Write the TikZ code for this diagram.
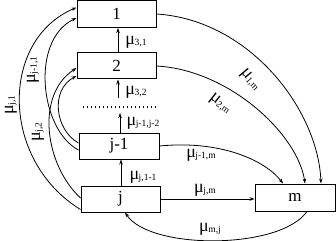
\documentclass[tikz,border=0pt]{standalone}
\usepackage{fontspec}
\setmainfont{Liberation Serif}
\usetikzlibrary{arrows.meta}
\newcommand\rt[1]{{\fontsize{18}{18}\selectfont μ}\kern-0.5pt{\fontsize{9.5}{10}\selectfont\raisebox{-0.35ex}{#1}}}
\begin{document}
\begin{tikzpicture}[x=1pt,y=-1pt,
 box/.style={draw,line width=1pt,inner sep=0pt,font=\fontsize{17}{17}\selectfont},
 conn/.style={line width=0.8pt,-{Stealth[length=5pt,width=3.5pt]}},
 lab/.style={inner sep=0pt}]
\useasboundingbox (0,0) rectangle (336,240);
\node[box,minimum width=79pt,minimum height=27pt] (n1) at (116.5,14) {1};
\node[box,minimum width=79pt,minimum height=26pt] (n2) at (116.5,66) {2};
\node[box,minimum width=80pt,minimum height=26pt] (nj1) at (119,146) {j-1};
\node[box,minimum width=79pt,minimum height=26pt] (nj) at (120.5,199) {j};
\node[box,minimum width=80pt,minimum height=27pt] (nm) at (295,197.5) {m};
% dotted line
\coordinate (dl) at (83,107);
\coordinate (dr) at (157,107);
\draw[line width=1.3pt,dash pattern=on 1.3pt off 2.7pt] (dl) -- (dr);
% vertical arrows
\draw[conn] ([xshift=1.5pt]n2.north) -- ([xshift=1.5pt]n1.south);
\coordinate (a32) at (118,98);
\draw[conn] (a32) -- (a32 |- n2.south);
\coordinate (a21) at (120,113);
\draw[conn] (nj1.north -| a21) -- (a21);
\draw[conn] ([xshift=0.5pt]nj.north) -- ([xshift=0.5pt]nj.north |- nj1.south);
% right curves
\draw[conn] (n1.east) .. controls (250,20) and (318,110) .. ([xshift=26pt]nm.north);
\draw[conn] (n2.east) .. controls (230,70) and (298,135) .. ([xshift=10pt]nm.north);
\draw[conn] (nj1.east) .. controls (220,140) and (265,160) .. ([xshift=-12pt]nm.north);
\draw[conn] (nj.east) -- (nj.east -| nm.west);
\draw[conn] ([xshift=12pt]nm.south) .. controls (280,250) and (150,250) .. ([xshift=4.5pt]nj.south);
% left curves
\draw[conn] ([yshift=3pt]nj.south west) .. controls (0,160) and (0,40) .. ([yshift=-7.5pt]n1.north west);
\draw[conn] ([yshift=-4pt]nj1.west) .. controls (40,130) and (30,40) .. ([yshift=-4pt]n1.west);
\draw[conn] ([yshift=1pt]nj.west) .. controls (45,165) and (35,95) .. ([yshift=-2pt]n2.west);
\draw[conn] ([yshift=3pt]nj1.west) .. controls (55,130) and (50,90) .. ([yshift=-10pt]n2.west);
% labels
\node[lab] (l31) at (136,42) {\rt{3,1}};
\node[lab] (l32) at (136,92) {\rt{3,2}};
\node[lab] (l21) at (143,123) {\rt{j-1,j-2}};
\node[lab] (ljj) at (143,177) {\rt{j,1-1}};
\node[lab,rotate=-50] (l1m) at (250,80) {\rt{1,m}};
\node[lab,rotate=-38] (l2m) at (220,104) {\rt{2,m}};
\node[lab] (ljm1) at (201,155) {\rt{j-1,m}};
\node[lab] (ljm) at (205,190) {\rt{j,m}};
\node[lab] (lmj) at (210,229) {\rt{m,j}};
\node[lab,rotate=90] (lj1) at (11,105) {\rt{j,1}};
\node[lab,rotate=90] (lj11) at (33,70) {\rt{j-1,1}};
\node[lab,rotate=90] (lj2) at (38,132) {\rt{j,2}};
\end{tikzpicture}
\end{document}
